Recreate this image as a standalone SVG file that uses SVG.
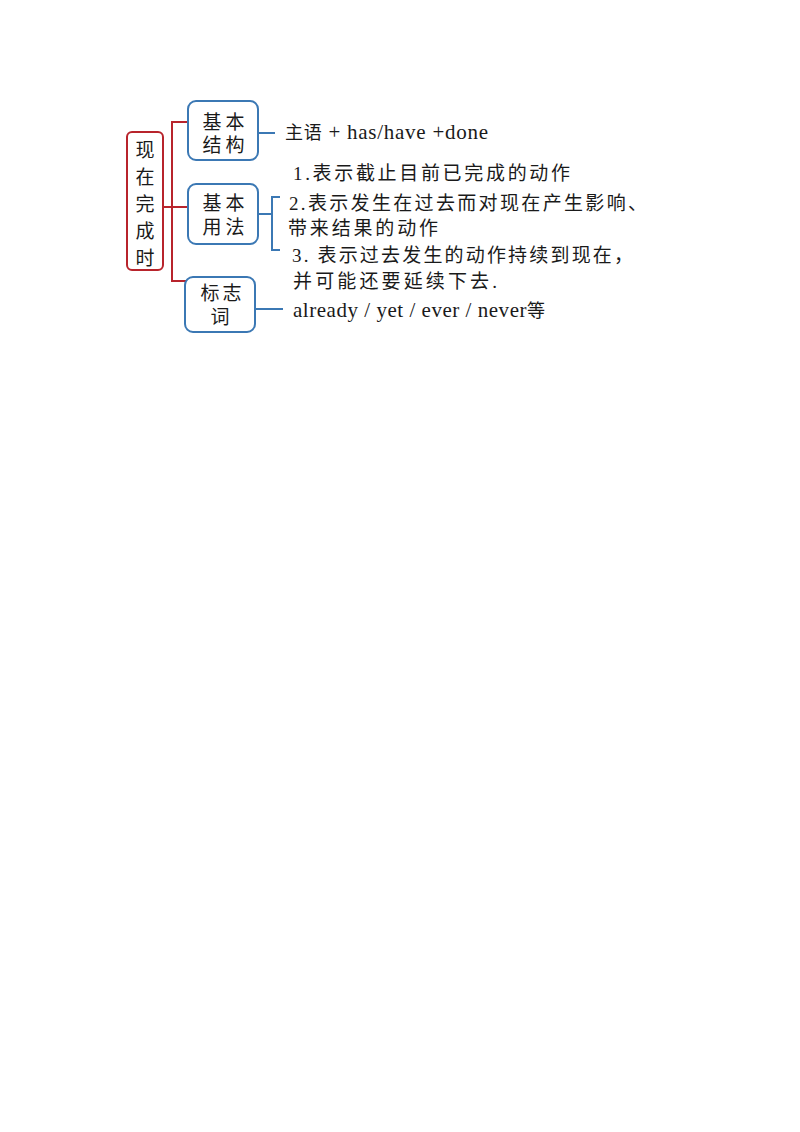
<svg xmlns="http://www.w3.org/2000/svg" width="800" height="1132" viewBox="0 0 800 1132">
<style>
.red{fill:#fff;stroke:#b8242c;stroke-width:2}
.blue{fill:#fff;stroke:#3b78b4;stroke-width:2}
.rl{fill:none;stroke:#b8242c;stroke-width:2}
.bl{fill:none;stroke:#3b78b4;stroke-width:2}
.n{font-family:"Liberation Serif","Noto Sans CJK SC",serif;font-size:19px;fill:#1a1a1a;text-anchor:middle}
.t{font-family:"Liberation Serif","Noto Sans CJK SC",serif;font-size:19px;fill:#1a1a1a}
.e{font-family:"Liberation Serif","Noto Sans CJK SC",serif;font-size:21px;fill:#1a1a1a}
</style>
<rect width="800" height="1132" fill="#fff"/>
<g id="connectors">
<path class="rl" d="M163 207 H188 M188 122 H172 V281 H188"/>
<path class="bl" d="M258 133 H275"/>
<path class="bl" d="M258 214 H272 M280 197 H272 V250 H280"/>
<path class="bl" d="M255 309 H283"/>
</g>
<g id="root">
<rect class="red" x="127" y="132" width="36" height="138" rx="5"/>
<text class="n" x="145" y="157">现</text>
<text class="n" x="145" y="184">在</text>
<text class="n" x="145" y="211">完</text>
<text class="n" x="145" y="238">成</text>
<text class="n" x="145" y="265">时</text>
</g>
<g id="structure">
<rect class="blue" x="188" y="101" width="70" height="59" rx="8"/>
<text class="n" x="212 235" y="129">基本</text>
<text class="n" x="212 235" y="152">结构</text>
</g>
<g id="usage">
<rect class="blue" x="188" y="184" width="70" height="60" rx="8"/>
<text class="n" x="212 235" y="210">基本</text>
<text class="n" x="212 235" y="234">用法</text>
</g>
<g id="markers">
<rect class="blue" x="185" y="277" width="70" height="55" rx="8"/>
<text class="n" x="210 232" y="300">标志</text>
<text class="n" x="220" y="324">词</text>
</g>
<g id="texts">
<text class="e" x="285" y="139" textLength="203" lengthAdjust="spacing"><tspan font-size="18">主语</tspan> + has/have +done</text>
<text class="t" x="293" y="180" textLength="277" lengthAdjust="spacing">1.表示截止目前已完成的动作</text>
<text class="t" x="289" y="210" textLength="358" lengthAdjust="spacing">2.表示发生在过去而对现在产生影响、</text>
<text class="t" x="288" y="235" textLength="150" lengthAdjust="spacing">带来结果的动作</text>
<text class="t" x="292" y="262" textLength="341" lengthAdjust="spacing">3. 表示过去发生的动作持续到现在，</text>
<text class="t" x="293" y="288" textLength="204" lengthAdjust="spacing">并可能还要延续下去.</text>
<text class="e" x="293" y="317" textLength="252" lengthAdjust="spacing">already / yet / ever / never<tspan font-size="18">等</tspan></text>
</g>
</svg>
